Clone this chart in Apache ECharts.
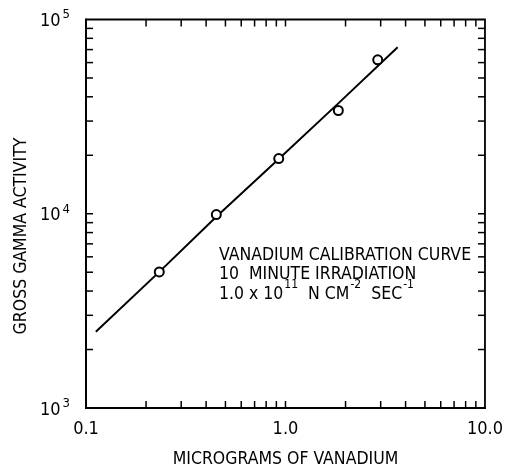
<!DOCTYPE html>
<html>
<head>
<meta charset="utf-8">
<script src="https://cdn.jsdelivr.net/npm/echarts@6/dist/echarts.min.js"></script>
<style>
html,body{margin:0;padding:0;background:#fff;overflow:hidden;}
#c{width:506px;height:473px;}
</style>
</head>
<body>
<div id="c"></div>
<script>
// ---- data ----
const pointX = [0.233, 0.45, 0.925, 1.84, 2.9];
const pointY = [5020, 9900, 19240, 34000, 62000];
const lineX = [0.112, 0.233, 0.45, 0.925, 1.84, 3.65];
const lineY = [2470, 5020, 9650, 19150, 37000, 72000];
const xMinorTicks = [0.2,0.3,0.4,0.5,0.6,0.7,0.8,0.9,1,2,3,4,5,6,7,8,9];
const yMinorTicks = [2000,3000,4000,5000,6000,7000,8000,9000,10000,20000,30000,40000,50000,60000,70000,80000,90000];
const xTickLabels = {'-1':'0.1','0':'1.0','1':'10.0'};
const yTickExps = {'3':'3','4':'4','5':'5'};
const xTitle = 'MICROGRAMS OF VANADIUM';
const yTitle = 'GROSS GAMMA ACTIVITY';
const noteLines = ['VANADIUM CALIBRATION CURVE', '10  MINUTE IRRADIATION'];
const xMin = 0.1, xMax = 10, yMin = 1000, yMax = 100000;

const FONT = '"Liberation Sans Narrow", "DejaVu Sans Condensed", "Roboto Condensed", sans-serif';
const TICK = 7;

const chart = echarts.init(document.getElementById('c'), null, {renderer:'canvas', width:506, height:473});

function tickRender(dir){
  return function(params, api){
    const v = api.value(dir === 'x' ? 0 : 1);
    let a, b, lines;
    if (dir === 'x') {
      a = api.coord([v, yMin]); b = api.coord([v, yMax]);
      lines = [[a[0], a[1], a[0], a[1]-TICK], [b[0], b[1], b[0], b[1]+TICK]];
    } else {
      a = api.coord([xMin, v]); b = api.coord([xMax, v]);
      lines = [[a[0], a[1], a[0]+TICK, a[1]], [b[0], b[1], b[0]-TICK, b[1]]];
    }
    return {type:'group', children: lines.map(l => ({
      type:'line', shape:{x1:l[0],y1:l[1],x2:l[2],y2:l[3]},
      style:{stroke:'#000', lineWidth:1.5}
    }))};
  };
}

const option = {
  backgroundColor:'#fff',
  animation:false,
  grid:{left:86, top:19.5, width:403, height:392.5, show:true, borderColor:'#000', borderWidth:1.8, backgroundColor:'transparent'},
  xAxis:{
    type:'log', logBase:10, min:xMin, max:xMax,
    axisLine:{show:true, lineStyle:{color:'#000', width:1.8}},
    axisTick:{show:false}, splitLine:{show:false}, minorTick:{show:false},
    axisLabel:{
      color:'#000', fontFamily:FONT, fontSize:18, margin:12,
      formatter: v => xTickLabels[String(Math.round(Math.log10(v)))] || ''
    },
    name:xTitle, nameLocation:'middle', nameGap:42,
    nameTextStyle:{color:'#000', fontFamily:FONT, fontSize:17.5}
  },
  yAxis:{
    type:'log', logBase:10, min:yMin, max:yMax,
    axisLine:{show:true, lineStyle:{color:'#000', width:1.8}},
    axisTick:{show:false}, splitLine:{show:false}, minorTick:{show:false},
    axisLabel:{
      color:'#000', fontFamily:FONT, margin:16,
      formatter: v => '{b|10}{s|' + yTickExps[String(Math.round(Math.log10(v)))] + '}',
      rich:{
        b:{fontFamily:FONT, fontSize:18, color:'#000', lineHeight:22, verticalAlign:'bottom'},
        s:{fontFamily:FONT, fontSize:13, color:'#000', lineHeight:12, verticalAlign:'top', padding:[0,0,0,2]}
      }
    }
  },
  series:[
    {type:'line', data:lineX.map((x,i)=>[x,lineY[i]]), showSymbol:false, symbol:'none',
     lineStyle:{color:'#000', width:2}, silent:true, z:2},
    {type:'scatter', data:pointX.map((x,i)=>[x,pointY[i]]), symbol:'circle', symbolSize:9,
     itemStyle:{color:'#fff', borderColor:'#000', borderWidth:2, opacity:1}, z:3},
    {type:'custom', data:xMinorTicks.map(v=>[v, yMin]), renderItem:tickRender('x'), clip:false, silent:true, z:4},
    {type:'custom', data:yMinorTicks.map(v=>[xMin, v]), renderItem:tickRender('y'), clip:false, silent:true, z:4}
  ],
  graphic:[
    {type:'text', left:219, top:246, style:{text:noteLines[0], font:'17.5px ' + FONT, fill:'#000'}},
    {type:'text', left:219, top:265, style:{text:noteLines[1], font:'17.5px ' + FONT, fill:'#000'}},
    {type:'text', left:219, top:279, style:{
      text:'{n|1.0 x 10}{s|11}{n|  N CM}{s|-2}{n|  SEC}{s|-1}',
      rich:{
        n:{fontFamily:FONT, fontSize:17.5, fill:'#000', lineHeight:24, verticalAlign:'bottom'},
        s:{fontFamily:FONT, fontSize:12, fill:'#000', lineHeight:11, verticalAlign:'top', padding:[0,0,0,1]}
      }
    }},
    {type:'text', x:21, y:236, rotation:Math.PI/2, style:{text:yTitle, font:'17.5px ' + FONT, fill:'#000', align:'center', verticalAlign:'middle'}}
  ]
};
chart.setOption(option);
</script>
</body>
</html>
